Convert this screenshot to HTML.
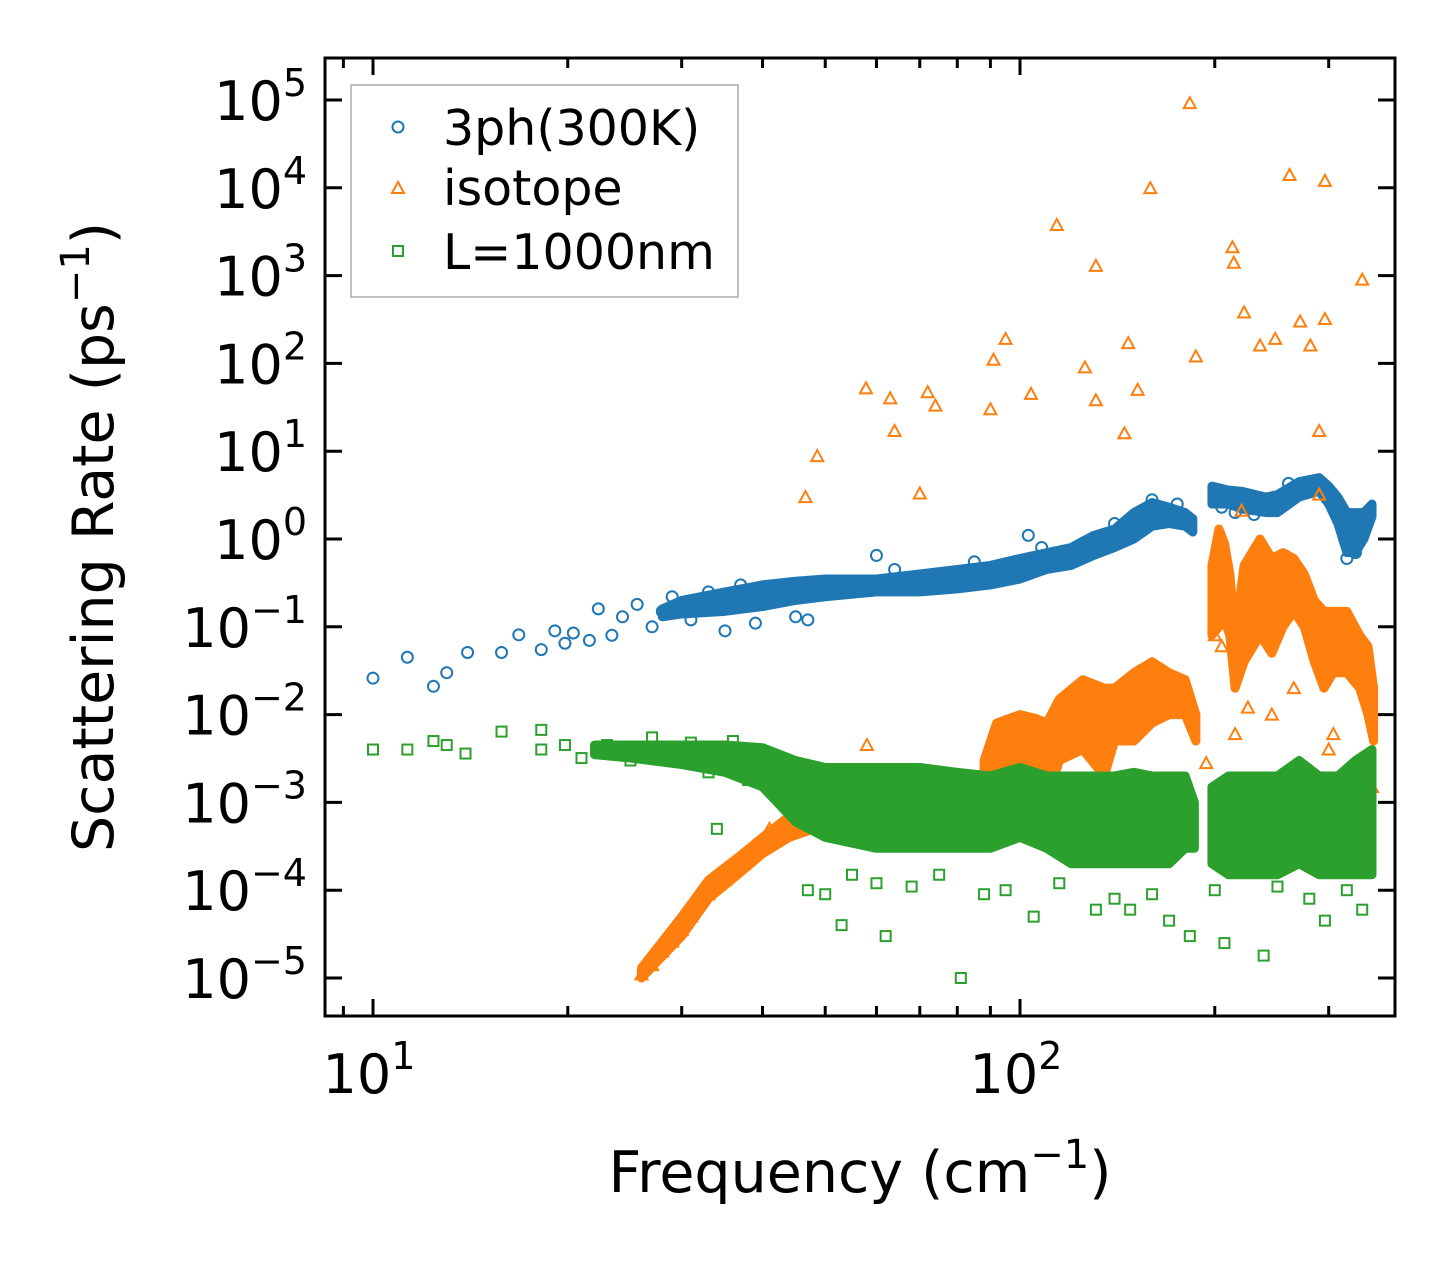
<!DOCTYPE html>
<html><head><meta charset="utf-8"><style>
body{margin:0;background:#fff}
svg text{font-family:"DejaVu Sans","Liberation Sans",sans-serif;fill:#000}
</style></head><body>
<svg id="chart" width="1455" height="1265" viewBox="0 0 1455 1265" xmlns="http://www.w3.org/2000/svg">
<rect width="1455" height="1265" fill="#fff"/>
<defs><clipPath id="clip"><rect x="325" y="58" width="1070" height="958"/></clipPath></defs>
<g id="plot" clip-path="url(#clip)"></g>
<rect x="325" y="58" width="1070" height="958" fill="none" stroke="#000" stroke-width="3"/>
<g id="ticks"></g>
<text x="860" y="1192" font-size="57" text-anchor="middle">Frequency (cm<tspan font-size="40" dy="-24">−1</tspan><tspan dy="24">)</tspan></text>
<text transform="translate(113,537) rotate(-90)" font-size="57" text-anchor="middle">Scattering Rate (ps<tspan font-size="40" dy="-24">−1</tspan><tspan dy="24">)</tspan></text>
<g>
<rect x="351" y="85" width="387" height="212" fill="#fff" fill-opacity="0.8" stroke="#aaa" stroke-width="1.5"/>
<circle cx="398" cy="127" r="5.5" fill="none" stroke="#1f77b4" stroke-width="2"/>
<text x="443" y="145" font-size="49">3ph(300K)</text>
<path d="M392,193 L404,193 L398,182 Z" fill="none" stroke="#ff7f0e" stroke-width="2"/>
<text x="443" y="205" font-size="49">isotope</text>
<rect x="393" y="246" width="10" height="10" fill="none" stroke="#2ca02c" stroke-width="2"/>
<text x="443" y="269" font-size="49">L=1000nm</text>
</g>
</svg>
<script>
// ---- data ----
const blueFreq=[10,11.3,12.4,13,14,15.8,16.8,18.2,19.1,19.8,20.4,21.6,22.3,23.4,24.3,25.6,27,28,29,31,33,35,37,39,42,45,47,60,64,67,85,103,108,140,160,175,205,215,230,260,320,330];
const blueRate=[0.026,0.045,0.021,0.03,0.051,0.051,0.081,0.055,0.09,0.065,0.085,0.07,0.16,0.08,0.13,0.18,0.1,0.15,0.22,0.12,0.25,0.09,0.3,0.11,0.28,0.13,0.12,0.65,0.45,0.35,0.55,1.1,0.8,1.5,2.8,2.5,2.3,2.0,1.9,4.3,0.6,0.7];
const blueBandFreq1=[28,30,35,40,45,50,60,70,80,90,100,110,120,130,140,150,160,170,180,185];
const blueBandLow1=[0.13,0.14,0.15,0.17,0.2,0.22,0.25,0.25,0.27,0.3,0.35,0.45,0.5,0.65,0.8,1.0,1.4,1.5,1.4,1.2];
const blueBandHigh1=[0.16,0.2,0.25,0.3,0.33,0.35,0.35,0.4,0.45,0.5,0.6,0.7,0.8,1.1,1.3,2.0,2.6,2.3,2.0,1.7];
const blueBandFreq2=[198,210,220,240,250,270,290,300,310,320,330,340,350];
const blueBandLow2=[2.5,2.5,2.2,2.0,2.0,3.0,3.5,2.5,1.5,0.7,0.7,1.0,1.8];
const blueBandHigh2=[4.0,3.6,3.5,3.0,3.2,4.5,5.0,4.0,3.0,2.0,2.0,2.0,2.5];
const orFreq=[183,159,114,131,261,296,213,214,338,222,271,296,281,235,248,187,95,91,90,104,126,131,147,152,145,57.8,63,64,72,74,70,46.6,48.6,290,290,220,180,194,58,77,26,27,28,29,30,31,33,35,37,39,41,44,200,205,215,225,245,265,300,305,350];
const orRate=[92000,9900,3770,1290,14000,12000,2100,1400,900,380,300,320,160,160,190,120,190,110,30,45,90,38,170,50,16,52,40,17,47,33,3.3,3.0,8.8,17,3.2,2.1,0.02,0.0028,0.0045,0.0006,1.1e-5,1.4e-5,2e-5,2.6e-5,3.5e-5,5e-5,9e-5,1.3e-4,2e-4,3e-4,5e-4,1e-3,0.08,0.06,0.006,0.012,0.01,0.02,0.004,0.006,0.0015];
const orBandFreq1=[26,30,33,37,40,44,48,55,70,85,88];
const orBandLow1=[1e-5,3e-5,8e-5,1.6e-4,2.6e-4,4e-4,5e-4,5e-4,5e-4,5e-4,8e-4];
const orBandHigh1=[1.3e-5,5e-5,1.3e-4,2.5e-4,4e-4,7e-4,1.3e-3,1.5e-3,1.5e-3,1.5e-3,2e-3];
const orBandFreq2=[88,92,100,106,110,115,125,135,140,150,160,170,180,187];
const orBandLow2=[1e-3,2e-3,2e-3,1.5e-3,1e-3,3e-3,4e-3,2e-3,5e-3,5e-3,8e-3,1e-2,1e-2,5e-3];
const orBandHigh2=[3e-3,8e-3,1e-2,9e-3,8e-3,1.5e-2,2.5e-2,2e-2,2e-2,3e-2,4e-2,3e-2,2.5e-2,1e-2];
const orBandFreq3=[198,203,207,211,215,222,235,245,255,265,275,285,295,305,320,335,345,352];
const orBandLow3=[0.08,0.1,0.12,0.08,0.02,0.04,0.08,0.05,0.1,0.15,0.1,0.04,0.02,0.03,0.03,0.02,0.01,0.005];
const orBandHigh3=[0.5,1.3,0.9,0.4,0.08,0.5,1.0,0.6,0.7,0.6,0.4,0.2,0.15,0.15,0.15,0.08,0.06,0.02];
const grFreq=[10,11.3,12.4,13,13.9,15.8,18.2,18.2,19.8,81,62,53,47,50,34,207,238,183,105,131,148,170,296,338,55,60,68,75,88,95,115,140,160,200,250,280,320,21,23,25,27,29,31,33,36,38,42];
const grRate=[4e-3,4e-3,5e-3,4.5e-3,3.6e-3,6.4e-3,6.7e-3,4e-3,4.5e-3,1e-5,3e-5,4e-5,1e-4,9e-5,5e-4,2.5e-5,1.8e-5,3e-5,5e-5,6e-5,6e-5,4.5e-5,4.5e-5,6e-5,1.5e-4,1.2e-4,1.1e-4,1.5e-4,9e-5,1e-4,1.2e-4,8e-5,9e-5,1e-4,1.1e-4,8e-5,1e-4,3.2e-3,4.5e-3,3e-3,5.5e-3,3e-3,4.8e-3,2.2e-3,5e-3,1.8e-3,1.2e-3];
const grBandFreq1=[22,25,30,35,40,45,50,60,70,80,90,100,110,120,130,140,150,160,170,180,186];
const grBandLow1=[3.5e-3,3.2e-3,2.7e-3,2.2e-3,1.5e-3,6e-4,4e-4,3e-4,3e-4,3e-4,3e-4,4e-4,3e-4,2e-4,2e-4,2e-4,2e-4,2e-4,2e-4,3e-4,3e-4];
const grBandHigh1=[4.5e-3,4.5e-3,4.5e-3,4.5e-3,4.2e-3,3e-3,2.5e-3,2.5e-3,2.5e-3,2.2e-3,2e-3,2.5e-3,2e-3,2e-3,2e-3,2e-3,2.2e-3,2e-3,2e-3,2e-3,1e-3];
const grBandFreq2=[198,210,230,250,270,290,310,330,350];
const grBandLow2=[2e-4,1.5e-4,1.5e-4,1.5e-4,2e-4,1.5e-4,1.5e-4,1.5e-4,1.5e-4];
const grBandHigh2=[1.5e-3,2e-3,2e-3,2e-3,3e-3,2e-3,2e-3,3e-3,4e-3];
const xTickMajor=[10,100];
const xTickMinor=[9,20,30,40,50,60,70,80,90,200,300];
const yTickExp=[-5,-4,-3,-2,-1,0,1,2,3,4,5];

// ---- axes ----
const X=f=>373+(Math.log10(f)-1)*647;
const Y=r=>100+(5-Math.log10(r))*87.8;
const NS='http://www.w3.org/2000/svg';
const plot=document.getElementById('plot'),ticks=document.getElementById('ticks');
function mk(tag,attrs,parent){const e=document.createElementNS(NS,tag);for(const k in attrs)e.setAttribute(k,attrs[k]);parent.appendChild(e);return e;}
const C={b:'#1f77b4',o:'#ff7f0e',g:'#2ca02c'};
function band(fr,lo,hi,col,name){
  let d='M'+fr.map((f,i)=>X(f)+','+Y(hi[i])).join(' L');
  d+=' L'+fr.map((f,i)=>X(f)+','+Y(lo[i])).reverse().join(' L')+' Z';
  const p=mk('path',{d:d,fill:col,stroke:col,'stroke-width':9,'stroke-linejoin':'round'},plot);
  
  
}
function circ(f,r,name){const e=mk('circle',{cx:X(f),cy:Y(r),r:5.5,fill:'none',stroke:C.b,'stroke-width':2},plot);
  
  }
function tri(f,r,name){const x=X(f),y=Y(r);const e=mk('path',{d:`M${x-6},${y+5} L${x+6},${y+5} L${x},${y-6} Z`,fill:'none',stroke:C.o,'stroke-width':2},plot);
  
  }
function sq(f,r,name){const e=mk('rect',{x:X(f)-5,y:Y(r)-5,width:10,height:10,fill:'none',stroke:C.g,'stroke-width':2},plot);
  
  }

band(blueBandFreq1,blueBandLow1,blueBandHigh1,C.b,'3ph-band-low-freq');
band(blueBandFreq2,blueBandLow2,blueBandHigh2,C.b,'3ph-band-high-freq');
blueFreq.forEach((f,i)=>circ(f,blueRate[i],'3ph-point'));
band(orBandFreq1,orBandLow1,orBandHigh1,C.o,'isotope-band-ramp');
band(orBandFreq2,orBandLow2,orBandHigh2,C.o,'isotope-band-mid');
band(orBandFreq3,orBandLow3,orBandHigh3,C.o,'isotope-band-high');
orFreq.forEach((f,i)=>tri(f,orRate[i],'isotope-point'));
band(grBandFreq1,grBandLow1,grBandHigh1,C.g,'boundary-band-low-freq');
band(grBandFreq2,grBandLow2,grBandHigh2,C.g,'boundary-band-high-freq');
grFreq.forEach((f,i)=>sq(f,grRate[i],'boundary-point'));

// ---- ticks ----
function vt(x,len,name){
  const a=mk('line',{x1:x,x2:x,y1:1016,y2:1016-len,stroke:'#000','stroke-width':3},ticks);
  
  
  const b=mk('line',{x1:x,x2:x,y1:58,y2:58+len,stroke:'#000','stroke-width':3},ticks);
  
  
}
xTickMajor.forEach(v=>{vt(X(v),17,'x-major-tick');
  const t=mk('text',{x:X(v)-4,y:1093,'font-size':54,'text-anchor':'middle'},ticks);
  
  
  t.innerHTML='10<tspan font-size="38" dy="-24">'+Math.round(Math.log10(v))+'</tspan>';});
xTickMinor.forEach(v=>vt(X(v),10,'x-minor-tick'));
yTickExp.forEach(e=>{const y=Y(Math.pow(10,e));
  const a=mk('line',{x1:325,x2:342,y1:y,y2:y,stroke:'#000','stroke-width':3},ticks);
  
  
  const b=mk('line',{x1:1378,x2:1395,y1:y,y2:y,stroke:'#000','stroke-width':3},ticks);
  
  
  const t=mk('text',{x:307,y:y+20,'font-size':54,'text-anchor':'end'},ticks);
  
  
  t.innerHTML='10<tspan font-size="38" dy="-24">'+(e<0?'−'+(-e):e)+'</tspan>';});
</script>
</body></html>
